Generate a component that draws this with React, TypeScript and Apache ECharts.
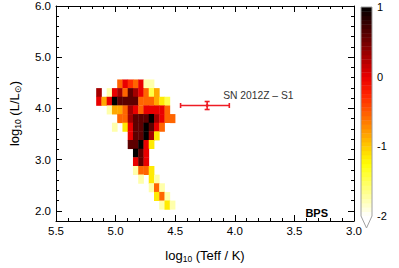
import React, { useEffect, useRef } from 'react';
import * as echarts from 'echarts';

// ---- 2D histogram (log10 density), rows from high L (top) to low L ----
const T_EDGE_START = 5.163; // left edge of first column (log Teff)
const T_BIN = 0.0441;
const L_EDGE_TOP = 4.565; // top edge of first row (log L)
const L_BIN = 0.169;

const DENSITY_ROWS: (number | null)[][] = [
  [null, null, null, null, -0.55, 0, -0.3, -0.55, 0, -1.75, -1.75, null, null, null, null],
  [0.3, null, -1.75, 0, 0.3, -0.55, 0.6, 0.3, 0, -0.55, -1.45, -0.85, null, null, null],
  [0, -0.85, 0, 1, 0.6, 0.6, 0.6, 0.6, -0.55, -0.55, -0.55, -0.85, -1.15, -1.45, null],
  [null, null, -1.75, -0.85, -0.85, -0.55, 0.3, 0, -0.55, 0, 0, 0, 0, -0.55, null],
  [null, null, null, null, -0.55, -0.55, 0.3, 0.6, 0.6, 0.6, 1, 0.3, 0, -0.55, -0.55],
  [null, null, null, -1.75, null, -1.15, 0, 0.6, 0.6, 1, 0.6, 0, -0.55, null, null],
  [null, null, null, null, null, null, 0, 0.6, 0.6, 1, 0.3, -1.15, null, null, null],
  [null, null, null, null, null, null, 0.6, 0.6, 1, 0, -1.15, null, null, null, null],
  [null, null, null, null, null, null, null, 1, 0.6, 0, null, null, null, null, null],
  [null, null, null, null, null, null, null, 0, 0.6, 0, null, null, null, null, null],
  [null, null, null, null, null, null, null, -1.75, -0.55, -0.55, -1.15, null, null, null, null],
  [null, null, null, null, null, null, null, null, -1.75, null, -1.15, -1.75, null, null, null],
  [null, null, null, null, null, null, null, null, null, null, -1.75, -0.55, -1.75, null, null],
  [null, null, null, null, null, null, null, null, null, null, null, -1.15, -0.55, -1.75, null],
  [null, null, null, null, null, null, null, null, null, null, null, null, -1.75, -1.15, -1.75],
];

// ---- colour bar ----
const CBAR_MIN = -2;
const CBAR_MAX = 1;
const CBAR_LEVELS = 48;
const HOT_R = ['#ffffff', '#ffffab', '#ffff58', '#ffff04', '#ffca00', '#ff9200', '#ff5a00', '#ff2300', '#e90000', '#af0000', '#740000', '#3a0000', '#000000'];

// ---- axes ----
const X_MIN = 3.0, X_MAX = 5.5, X_INTERVAL = 0.5;
const Y_MIN = 1.8, Y_MAX = 6.0, Y_MINOR = 0.2;
const Y_MAJOR_TICKS = [2, 3, 4, 5, 6];

// ---- SN 2012Z - S1 ----
const SN_LABEL = 'SN 2012Z \u2013 S1';
const SN_T = 4.232;
const SN_T_LO = 4.046;
const SN_T_HI = 4.455;
const SN_L = 4.056;
const SN_L_ERR = 0.078;

const FONT = 'Liberation Sans';
const RED = '#ee1c24';

export default function App() {
  const ref = useRef<HTMLDivElement>(null);
  useEffect(() => {
    const chart = echarts.init(ref.current!, undefined, { renderer: 'svg' });

    const heatData: number[][] = [];
    DENSITY_ROWS.forEach((row, k) => {
      row.forEach((v, c) => {
        if (v == null) return;
        const tL = T_EDGE_START - c * T_BIN;
        const lTop = L_EDGE_TOP - k * L_BIN;
        heatData.push([tL, tL - T_BIN, lTop - L_BIN, lTop, v]);
      });
    });

    const cbarData: number[][] = [];
    const step = (CBAR_MAX - CBAR_MIN) / CBAR_LEVELS;
    for (let i = 0; i < CBAR_LEVELS; i++) {
      const lo = CBAR_MIN + i * step;
      cbarData.push([0, 1, lo, lo + step, lo + step / 2]);
    }

    const tick = { color: '#000', width: 1 };
    const xBase: any = {
      type: 'value', gridIndex: 0, min: X_MIN, max: X_MAX, interval: X_INTERVAL, inverse: true,
      axisLine: { show: true, lineStyle: { color: '#000', width: 1 } },
      axisTick: { show: true, inside: true, length: 6, lineStyle: tick },
      minorTick: { show: true, splitNumber: 5, length: 3, lineStyle: tick },
      splitLine: { show: false },
    };
    const yMinorBase: any = {
      type: 'value', gridIndex: 0, min: Y_MIN, max: Y_MAX, interval: Y_MINOR,
      axisLine: { show: true, lineStyle: { color: '#000', width: 1 } },
      axisTick: { show: true, inside: true, length: 3, lineStyle: tick },
      splitLine: { show: false },
    };
    const yMajorBase: any = {
      type: 'value', gridIndex: 0, min: Y_MIN, max: Y_MAX,
      axisLine: { show: false },
      axisTick: { show: true, inside: true, length: 6, lineStyle: tick, customValues: Y_MAJOR_TICKS },
      axisLabel: { show: false },
      splitLine: { show: false },
    };
    const rich = {
      a: { fontSize: 13, fontFamily: FONT, color: '#000', lineHeight: 15 },
      s: { fontSize: 8.5, fontFamily: FONT, color: '#000', lineHeight: 7, verticalAlign: 'bottom' },
    };

    const option: any = {
      animation: false,
      backgroundColor: '#fff',
      grid: [
        { left: 48, top: 6, right: 45, bottom: 41 },
        { left: 361, top: 7, width: 11, height: 209 },
      ],
      xAxis: [
        {
          ...xBase, position: 'bottom',
          axisLabel: { show: true, formatter: (v: number) => v.toFixed(1), fontSize: 11.5, fontFamily: FONT, color: '#000', margin: 4 },
          name: '{a|log}{s|10}{a| (Teff / K)}', nameLocation: 'middle', nameGap: 27,
          nameTextStyle: { fontSize: 13, fontFamily: FONT, color: '#000', rich },
        },
        { ...xBase, position: 'top', axisLabel: { show: false } },
        { type: 'value', gridIndex: 1, min: 0, max: 1, show: false },
      ],
      yAxis: [
        {
          ...yMinorBase, position: 'left',
          axisLabel: {
            show: true, fontSize: 11.5, fontFamily: FONT, color: '#000', margin: 5,
            formatter: (v: number) => (Math.abs(v - Math.round(v)) < 1e-6 ? v.toFixed(1) : ''),
          },
          name: '{a|log}{s|10}{a| (L/L}{s|\u2299}{a|)}', nameLocation: 'middle', nameRotate: 90, nameGap: 34,
          nameTextStyle: { fontSize: 13, fontFamily: FONT, color: '#000', rich },
        },
        { ...yMajorBase, position: 'left' },
        { ...yMinorBase, position: 'right', axisLabel: { show: false } },
        { ...yMajorBase, position: 'right' },
        {
          type: 'value', gridIndex: 1, min: CBAR_MIN, max: CBAR_MAX, interval: 1, position: 'right',
          axisLine: { show: false }, axisTick: { show: false }, splitLine: { show: false },
          axisLabel: { show: true, fontSize: 11, fontFamily: FONT, color: '#000', margin: 5, formatter: (v: number) => String(v) },
        },
      ],
      visualMap: {
        type: 'continuous', show: false, min: CBAR_MIN, max: CBAR_MAX, dimension: 4,
        seriesIndex: [0, 1], inRange: { color: HOT_R },
      },
      series: [
        {
          type: 'custom', xAxisIndex: 0, yAxisIndex: 0, data: heatData, encode: { x: [0, 1], y: [2, 3] },
          renderItem: (params: any, api: any) => {
            const a = api.coord([api.value(0), api.value(3)]);
            const b = api.coord([api.value(1), api.value(2)]);
            return {
              type: 'rect',
              shape: { x: Math.min(a[0], b[0]), y: Math.min(a[1], b[1]), width: Math.abs(b[0] - a[0]) + 0.4, height: Math.abs(b[1] - a[1]) + 0.4 },
              style: { fill: api.visual('color') },
            };
          },
        },
        {
          type: 'custom', xAxisIndex: 2, yAxisIndex: 4, data: cbarData, encode: { x: [0, 1], y: [2, 3] },
          renderItem: (params: any, api: any) => {
            const a = api.coord([api.value(0), api.value(3)]);
            const b = api.coord([api.value(1), api.value(2)]);
            return {
              type: 'rect',
              shape: { x: a[0], y: a[1], width: b[0] - a[0], height: b[1] - a[1] + 0.4 },
              style: { fill: api.visual('color') },
            };
          },
        },
        {
          type: 'custom', xAxisIndex: 2, yAxisIndex: 4, data: [[0, 1, CBAR_MIN, CBAR_MAX]], silent: true,
          renderItem: (params: any, api: any) => {
            const tl = api.coord([api.value(0), api.value(3)]);
            const br = api.coord([api.value(1), api.value(2)]);
            const midX = (tl[0] + br[0]) / 2;
            const tipY = br[1] + 12;
            return {
              type: 'group',
              children: [
                { type: 'polygon', shape: { points: [[tl[0], br[1]], [br[0], br[1]], [midX, tipY]] }, style: { fill: '#fff' } },
                {
                  type: 'polyline',
                  shape: { points: [[tl[0], tl[1]], [br[0], tl[1]], [br[0], br[1]], [midX, tipY], [tl[0], br[1]], [tl[0], tl[1]]] },
                  style: { fill: null, stroke: '#a0a0a0', lineWidth: 1 },
                },
              ],
            };
          },
        },
        {
          type: 'custom', xAxisIndex: 0, yAxisIndex: 0, silent: true,
          data: [[SN_T, SN_L, SN_T_LO, SN_T_HI, SN_L - SN_L_ERR, SN_L + SN_L_ERR]],
          renderItem: (params: any, api: any) => {
            const c = api.coord([api.value(0), api.value(1)]);
            const l = api.coord([api.value(3), api.value(1)]);
            const r = api.coord([api.value(2), api.value(1)]);
            const lo = api.coord([api.value(0), api.value(4)]);
            const hi = api.coord([api.value(0), api.value(5)]);
            const cap = 2.5;
            const st = { stroke: RED, lineWidth: 1.6 };
            const line = (x1: number, y1: number, x2: number, y2: number) => ({ type: 'line', shape: { x1, y1, x2, y2 }, style: st });
            return {
              type: 'group',
              children: [
                line(l[0], c[1], r[0], c[1]),
                line(l[0], c[1] - cap, l[0], c[1] + cap),
                line(r[0], c[1] - cap, r[0], c[1] + cap),
                line(c[0], lo[1], c[0], hi[1]),
                line(c[0] - cap, lo[1], c[0] + cap, lo[1]),
                line(c[0] - cap, hi[1], c[0] + cap, hi[1]),
                { type: 'circle', shape: { cx: c[0], cy: c[1], r: 1.5 }, style: { fill: RED } },
                {
                  type: 'text', x: c[0] + 16, y: c[1] - 10.5,
                  style: { text: SN_LABEL, fill: '#333', fontSize: 10.3, fontFamily: FONT, align: 'left', verticalAlign: 'middle' },
                },
              ],
            };
          },
        },
      ],
      graphic: [
        {
          type: 'text', right: 71, top: 207.5,
          style: { text: 'BPS', fill: '#000', fontSize: 11, fontWeight: 'bold', fontFamily: FONT },
        },
      ],
    };
    chart.setOption(option);
    return () => chart.dispose();
  }, []);
  return <div ref={ref} style={{ position: 'fixed', left: 0, top: 0, width: 399, height: 268, background: '#fff' }} />;
}
